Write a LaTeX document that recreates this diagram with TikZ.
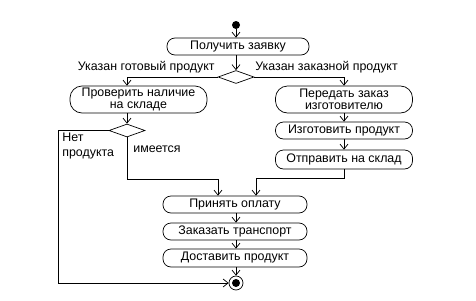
\documentclass[tikz,border=0pt]{standalone}
\usepackage{fontspec}
\setmainfont{Liberation Sans}
\usetikzlibrary{arrows.meta,shapes.geometric}
\begin{document}
\begin{tikzpicture}[x=1pt,y=-1pt,line width=0.7pt,
  act/.style={draw, rounded corners=8pt, minimum width=137pt, minimum height=17pt, inner sep=0pt, font=\fontsize{12.4}{12.5}\selectfont, align=center},
  big/.style={act, rounded corners=12pt, minimum height=27pt},
  dec/.style={draw, diamond, minimum width=36pt, minimum height=13pt, inner sep=0pt},
  lbl/.style={font=\fontsize{12.4}{15}\selectfont, inner sep=0pt},
  flow/.style={-{Straight Barb[length=5pt,width=8pt,line width=0.7pt]}}]
\useasboundingbox (0,0) rectangle (476,300);
\node[circle, fill=black, inner sep=0pt, minimum size=8pt] (start) at (236,25) {};
\node[act, minimum width=142pt] (n1) at (238,46.5) {Получить заявку};
\node[dec] (d1) at (236,77) {};
\node[big] (n2) at (138.5,99.5) {Проверить наличие\\на складе};
\node[big] (n3) at (344,99.5) {Передать заказ\\изготовителю};
\node[act] (n4) at (344,130.5) {Изготовить продукт};
\node[act, minimum height=19pt] (n5) at (344,159.5) {Отправить на склад};
\node[dec] (d2) at (127,130.5) {};
\node[act, minimum width=144pt] (n6) at (235,204.5) {Принять оплату};
\node[act, minimum width=144pt] (n7) at (235,231.5) {Заказать транспорт};
\node[act, minimum width=144pt, minimum height=18pt] (n8) at (235,258) {Доставить продукт};
\node[circle, draw, inner sep=0pt, minimum size=14pt] (end) at (236,283) {};
\node[circle, fill=black, inner sep=0pt, minimum size=8pt] (endin) at (end.center) {};
\node[lbl, anchor=east] (l1) at (215,67) {Указан готовый продукт};
\node[lbl, anchor=west] (l2) at (255,67) {Указан заказной продукт};
\node[lbl, anchor=north west, align=left] (l3) at (62,133) {Нет\\продукта};
\node[lbl, anchor=west] (l4) at (133,149) {имеется};
\coordinate (lft) at (58,283);
\coordinate (jl) at (218,179);
\coordinate (jr) at (256,178);
\draw[flow] (start) -- (start |- n1.north);
\draw[flow] (d1 |- n1.south) -- (d1.north);
\draw[flow] (d1.west) -| (d2 |- n2.north);
\draw[flow] (d1.east) -| (n3.north);
\draw[flow] (d2 |- n2.south) -- (d2.north);
\draw[flow] (n3) -- (n4);
\draw[flow] (n4) -- (n5);
\draw[flow] (d2.west) -| (lft) -- (end.west);
\draw[flow] (d2.south) |- (jl) -- (jl |- n6.north);
\draw[flow] (n5.south) |- (jr) -- (jr |- n6.north);
\draw[flow] (end |- n6.south) -- (end |- n7.north);
\draw[flow] (end |- n7.south) -- (end |- n8.north);
\draw[flow] (end |- n8.south) -- (end.north);
\end{tikzpicture}
\end{document}
